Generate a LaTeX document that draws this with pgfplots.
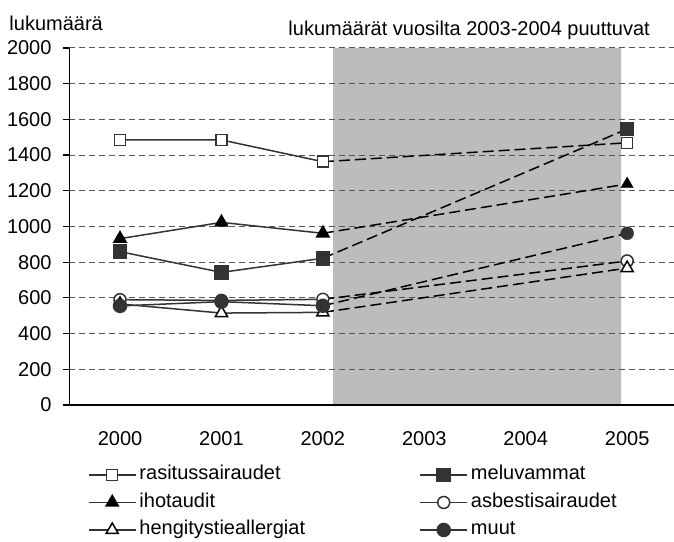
\documentclass[border=0pt]{standalone}
\usepackage{fontspec}
\setmainfont{Liberation Sans}
\usepackage{pgfplots}
\pgfplotsset{compat=1.18}
\definecolor{dk}{HTML}{333333}
\definecolor{shade}{HTML}{BBBCBE}
\definecolor{gridc}{HTML}{555555}

\newcommand{\lf}{\fontsize{20bp}{24bp}\selectfont}
\pgfplotsset{
  solidpart/.style={dk, line width=1.5bp, solid},
  dashpart/.style={black, line width=1.5bp, dash pattern=on 11bp off 5bp, forget plot},
  mOpenSq/.style={mark=square*, mark size=5.5bp, mark options={solid, fill=white, draw=dk, line width=1.5bp}},
  mFillSq/.style={mark=square*, mark size=6.5bp, mark options={solid, fill=dk, draw=dk}},
  mFillTri/.style={mark=triangle*, mark size=7bp, mark options={solid, fill=black, draw=black}},
  mOpenCirc/.style={mark=*, mark size=6bp, mark options={solid, fill=white, draw=dk, line width=1.5bp}},
  mOpenTri/.style={mark=triangle*, mark size=7bp, mark options={solid, fill=white, draw=black, line width=1.5bp}},
  mFillCirc/.style={mark=*, mark size=6.5bp, mark options={solid, fill=dk, draw=dk}},
}

\begin{document}
\begin{tikzpicture}[font=\lf]
\begin{axis}[
  set layers,
  at={(0,0)}, anchor=south west,
  scale only axis, width=604.7bp, height=357bp,
  xmin=-0.5, xmax=5.462, ymin=0, ymax=2000,
  axis x line*=bottom, axis y line*=left,
  axis line style={line width=1.5bp, black, -},
  xtick={0,1,2,3,4,5}, xticklabels={2000,2001,2002,2003,2004,2005},
  major x tick style={draw=none},
  ytick={0,200,...,2000},
  tick align=outside, major tick length=6bp,
  major tick style={line width=1.2bp, black},
  ymajorgrids,
  major grid style={gridc, dash pattern=on 6bp off 4bp, line width=1bp},
  /pgf/number format/assume math mode=true,
  /pgf/number format/1000 sep={},
  yticklabel style={inner sep=0pt, anchor=east, xshift=-11.6bp},
  xticklabel style={inner sep=0pt, anchor=north, yshift=-20bp},
  legend columns=2,
  legend cell align=left,
  legend style={at={(0.0309,-0.168)}, anchor=north west, draw=none, fill=none,
    inner sep=0pt, outer sep=0pt, column sep=3bp, row sep=7.5bp,
    nodes={inner sep=0pt, outer sep=0pt, text height=15bp, text depth=5bp},
    font=\lf},
  legend image code/.code={
    \draw[mark repeat=2, mark phase=2, solid, dk, line width=1.5bp] plot coordinates {(0bp,0bp) (23.5bp,0bp) (47bp,0bp)};
  },
]
% shaded region for missing years
\addplot[on layer=axis background, fill=shade, draw=none, forget plot] coordinates {(2.1,0) (2.1,2000) (4.94,2000) (4.94,0)} \closedcycle;

% dashed connections 2002 -> 2005
\addplot[dashpart] coordinates {(2,1363) (5,1469)};
\addplot[dashpart] coordinates {(2,822) (5,1546)};
\addplot[dashpart] coordinates {(2,962) (5,1238)};
\addplot[dashpart] coordinates {(2,592) (5,807)};
\addplot[dashpart] coordinates {(2,519) (5,767)};
\addplot[dashpart] coordinates {(2,556) (5,962)};

% solid parts 2000-2002
\addplot[solidpart, mOpenSq] coordinates {(0,1485) (1,1485) (2,1363)};
\addlegendentry{\makebox[277bp][l]{\lf rasitussairaudet}}
\addplot[solidpart, mFillSq] coordinates {(0,859) (1,743) (2,822)};
\addlegendentry{\lf meluvammat}
\addplot[solidpart, mFillTri] coordinates {(0,932) (1,1023) (2,962)};
\addlegendentry{\makebox[277bp][l]{\lf ihotaudit}}
\addplot[solidpart, mOpenCirc] coordinates {(0,590) (1,586) (2,592)};
\addlegendentry{\lf asbestisairaudet}
\addplot[solidpart, mOpenTri] coordinates {(0,566) (1,515) (2,519)};
\addlegendentry{\makebox[277bp][l]{\lf hengitystieallergiat}}
\addplot[solidpart, mFillCirc] coordinates {(0,555) (1,579) (2,556)};
\addlegendentry{\lf muut}

% 2005 markers
\addplot[only marks, mOpenSq, forget plot] coordinates {(5,1469)};
\addplot[only marks, mFillSq, forget plot] coordinates {(5,1546)};
\addplot[only marks, mFillTri, forget plot] coordinates {(5,1238)};
\addplot[only marks, mOpenCirc, forget plot] coordinates {(5,807)};
\addplot[only marks, mOpenTri, forget plot] coordinates {(5,767)};
\addplot[only marks, mFillCirc, forget plot] coordinates {(5,962)};
\end{axis}
\node[anchor=base west, inner sep=0pt] at (-60bp,374.3bp) {lukumäärä};
\node[anchor=base east, inner sep=0pt] at (580.7bp,369bp) {lukumäärät vuosilta 2003-2004 puuttuvat};
\pgfresetboundingbox
\useasboundingbox (-69.3bp,-137bp) rectangle (604.7bp,405bp);
\end{tikzpicture}
\end{document}
